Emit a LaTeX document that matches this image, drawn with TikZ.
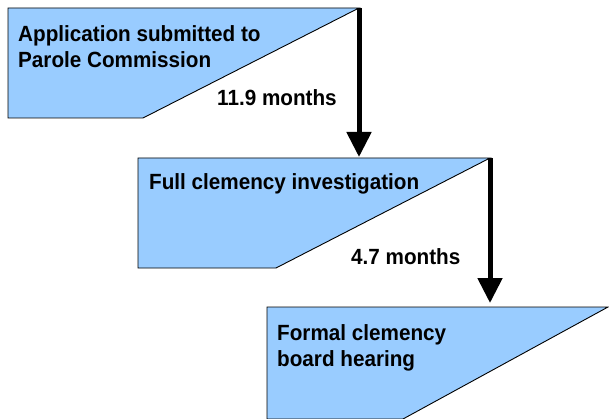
\documentclass[tikz,border=0pt]{standalone}
\usepackage{fontspec}
\setmainfont{Liberation Sans}[FakeStretch=0.94]
\usetikzlibrary{arrows.meta}
\definecolor{boxblue}{HTML}{99CCFF}
\tikzset{
  stagebox/.style={fill=boxblue, draw=black, line width=0.9pt},
  lbl/.style={anchor=base west, inner sep=0pt, font=\fontsize{22}{25}\selectfont\bfseries},
  flowarrow/.style={line width=5pt, -{Triangle[width=24pt,length=25pt]}}
}
\begin{document}
\begin{tikzpicture}[x=1pt,y=-1pt]
\useasboundingbox (0,0) rectangle (609,419);
\begin{scope}
\clip (0,0) rectangle (609,419);
% stage 1
\coordinate (s1tl) at (8,8);
\coordinate (s1tr) at (359,8);
\coordinate (s1br) at (143,118);
\coordinate (s1bl) at (8,118);
\draw[stagebox] (s1tl) -- (s1tr) -- (s1br) -- (s1bl) -- cycle;
% stage 2
\coordinate (s2tl) at (138,158);
\coordinate (s2tr) at (490,158);
\coordinate (s2br) at (276,268);
\coordinate (s2bl) at (138,268);
\draw[stagebox] (s2tl) -- (s2tr) -- (s2br) -- (s2bl) -- cycle;
% stage 3
\coordinate (s3tl) at (267,307);
\coordinate (s3tr) at (608,307);
\coordinate (s3br) at (403,419);
\coordinate (s3bl) at (267,419);
\draw[stagebox] (s3tl) -- (s3tr) -- (s3br) -- (s3bl) -- cycle;
\end{scope}
% texts
\node[lbl] (t1a) at (18,42) {Application submitted to};
\node[lbl] (t1b) at (18,68) {Parole Commission};
\node[lbl] (d1) at (217,106) {11.9 months};
\node[lbl] (t2) at (149,190) {Full clemency investigation};
\node[lbl] (d2) at (351,264) {4.7 months};
\node[lbl] (t3a) at (277,340) {Formal clemency};
\node[lbl] (t3b) at (277,366) {board hearing};
% arrows
\coordinate (a1end) at (359,157);
\coordinate (a2end) at (490,303);
\draw[flowarrow] (s1tr) -- (a1end);
\draw[flowarrow] (s2tr) -- (a2end);
\end{tikzpicture}
\end{document}
